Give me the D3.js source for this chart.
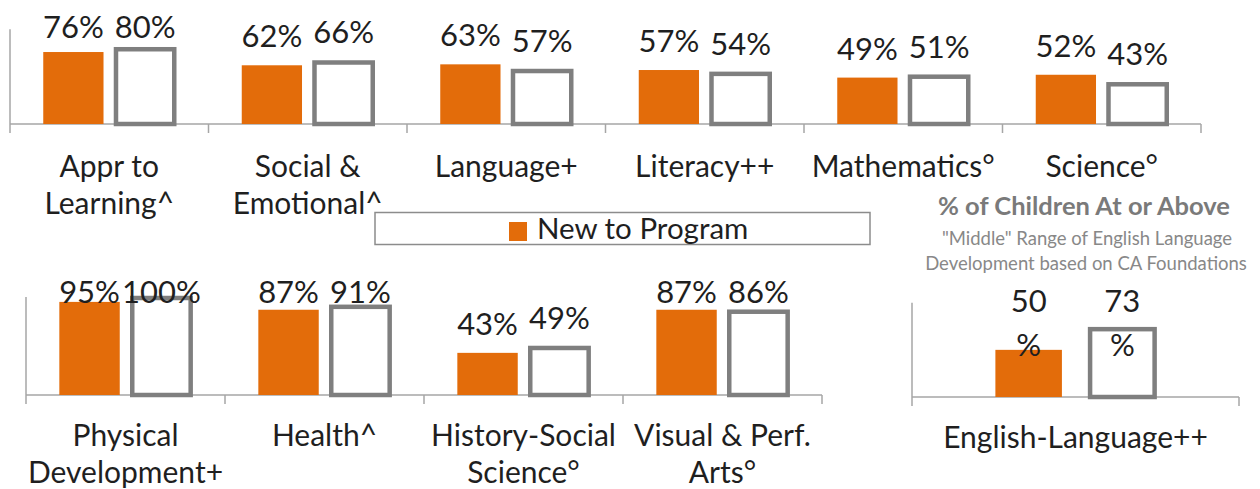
<!DOCTYPE html>
<html>
<head>
<meta charset="utf-8">
<script src="https://cdn.jsdelivr.net/npm/d3@7/dist/d3.min.js"></script>
<style>
  html, body { margin: 0; padding: 0; background: #ffffff; }
  svg { display: block; }
  text { font-family: Lato, "Open Sans", sans-serif; }
</style>
</head>
<body>
<script>
// ---------- DATA ----------
const seriesNames = ["New to Program", "Continuing"];

const topCategories = ["Appr to\nLearning^", "Social &\nEmotional^", "Language+", "Literacy++", "Mathematics°", "Science°"];
const topNew   = [76, 62, 63, 57, 49, 52];
const topOther = [80, 66, 57, 54, 51, 43];

const bottomCategories = ["Physical\nDevelopment+", "Health^", "History-Social\nScience°", "Visual & Perf.\nArts°"];
const bottomNew   = [95, 87, 43, 87];
const bottomOther = [100, 91, 49, 86];

const elCategories = ["English-Language++"];
const elNew   = [50];
const elOther = [73];

const elTitle = ["% of Children At or Above", "\"Middle\" Range of English Language", "Development based on CA Foundations"];

// ---------- STYLE ----------
const ORANGE = "#E36C0A";
const OUTLINE = "#7F7F7F";
const AXIS = "#A6A6A6";
const TEXT = "#1F1F1F";

const W = 1260, H = 489;
const svg = d3.select("body").append("svg").attr("width", W).attr("height", H);

function panel(opt) {
  const g = svg.append("g");
  const x0 = d3.scaleBand().domain(opt.cats).range(opt.xRange).padding(0);
  const bw = x0.bandwidth();
  const x1 = d3.scaleBand().domain(seriesNames)
    .range([bw * opt.groupStart, bw * (1 - opt.groupStart)])
    .paddingInner(opt.gap);
  const y = d3.scaleLinear().domain([0, 100]).range(opt.yRange);
  const y0 = y(0), yTop = y(100);

  // axes
  g.append("line").attr("x1", opt.xRange[0]).attr("x2", opt.xRange[1])
    .attr("y1", y0).attr("y2", y0).attr("stroke", AXIS).attr("stroke-width", 1.5);
  g.append("line").attr("x1", opt.xRange[0]).attr("x2", opt.xRange[0])
    .attr("y1", yTop).attr("y2", y0).attr("stroke", AXIS).attr("stroke-width", 1.5);
  const bounds = opt.cats.map(c => x0(c)).concat([opt.xRange[1]]);
  g.selectAll(".tick").data(bounds).join("line")
    .attr("x1", d => d).attr("x2", d => d)
    .attr("y1", y0).attr("y2", y0 + 9)
    .attr("stroke", AXIS).attr("stroke-width", 1.5);

  const rows = opt.cats.map((c, i) => ({ c, vals: [opt.a[i], opt.b[i]] }));
  const grp = g.selectAll(".grp").data(rows).join("g")
    .attr("transform", d => `translate(${x0(d.c)},0)`);

  const bars = grp.selectAll(".bar").data(d => d.vals.map((v, j) => ({ v, s: seriesNames[j], j })))
    .join("g");

  bars.append("rect")
    .attr("x", d => x1(d.s) + (d.j === 1 ? 1 : 0))
    .attr("width", d => x1.bandwidth() - (d.j === 1 ? 2 : 0))
    .attr("y", d => y(d.v) + (d.j === 1 ? 1 : 0))
    .attr("height", d => y0 - y(d.v) - (d.j === 1 ? 1 : 0))
    .attr("fill", d => d.j === 0 ? ORANGE : "#ffffff")
    .attr("stroke", d => d.j === 0 ? "none" : OUTLINE)
    .attr("stroke-width", 4.5);

  // value labels
  bars.append("text")
    .attr("x", d => x1(d.s) + x1.bandwidth() / 2)
    .attr("text-anchor", "middle")
    .attr("fill", TEXT)
    .attr("font-size", opt.valueSize)
    .each(function (d) {
      const t = d3.select(this);
      if (opt.wrapValue) {
        t.attr("y", opt.wrapY);
        t.append("tspan").attr("x", x1(d.s) + x1.bandwidth() / 2).text(d.v);
        t.append("tspan").attr("x", x1(d.s) + x1.bandwidth() / 2).attr("dy", opt.wrapDy).text("%");
      } else {
        t.attr("y", Math.max(y(d.v) - 18, yTop + opt.clamp));
        t.text(d.v + "%");
      }
    });

  // category labels
  const labels = g.selectAll(".cat").data(opt.cats).join("text")
    .attr("text-anchor", "middle")
    .attr("fill", TEXT)
    .attr("font-size", opt.catSize)
    .attr("y", opt.catY);
  labels.each(function (c) {
    const t = d3.select(this);
    c.split("\n").forEach((line, k) => {
      t.append("tspan").attr("x", x0(c) + bw / 2).attr("dy", k === 0 ? 0 : opt.lineH).text(line);
    });
  });
  return { x0, y };
}

panel({ cats: topCategories, a: topNew, b: topOther, xRange: [10, 1201], yRange: [124, 29.3],
        groupStart: 0.1675, gap: 0.16, valueSize: 31, clamp: 8.5, catSize: 30, catY: 177, lineH: 37 });

panel({ cats: bottomCategories, a: bottomNew, b: bottomOther, xRange: [26, 822], yRange: [395, 297],
        groupStart: 0.1675, gap: 0.16, valueSize: 31, clamp: 6, catSize: 30, catY: 446, lineH: 37 });

panel({ cats: elCategories, a: elNew, b: elOther, xRange: [912, 1239], yRange: [397, 302.7],
        groupStart: 0.255, gap: 0.29, valueSize: 31, wrapValue: true, wrapY: 312, wrapDy: 44,
        catSize: 30, catY: 448, lineH: 37 });

// EL title
svg.append("text").attr("x", 1084).attr("y", 215).attr("text-anchor", "middle")
  .attr("font-size", 25.5).attr("font-weight", "bold").attr("fill", "#7A7A7A").text(elTitle[0]);
svg.append("text").attr("x", 1087).attr("y", 245).attr("text-anchor", "middle")
  .attr("font-size", 18.5).attr("fill", "#888888").text(elTitle[1]);
svg.append("text").attr("x", 1086).attr("y", 270).attr("text-anchor", "middle")
  .attr("font-size", 18.5).attr("fill", "#888888").text(elTitle[2]);

// legend
const leg = svg.append("g");
leg.append("rect").attr("x", 375).attr("y", 212.5).attr("width", 495).attr("height", 32)
  .attr("fill", "#ffffff").attr("stroke", "#8C8C8C").attr("stroke-width", 1.5);
leg.append("rect").attr("x", 509).attr("y", 222).attr("width", 18).attr("height", 19).attr("fill", ORANGE);
leg.append("text").attr("x", 537).attr("y", 239).attr("font-size", 29.5).attr("fill", TEXT).text(seriesNames[0]);
</script>
</body>
</html>
